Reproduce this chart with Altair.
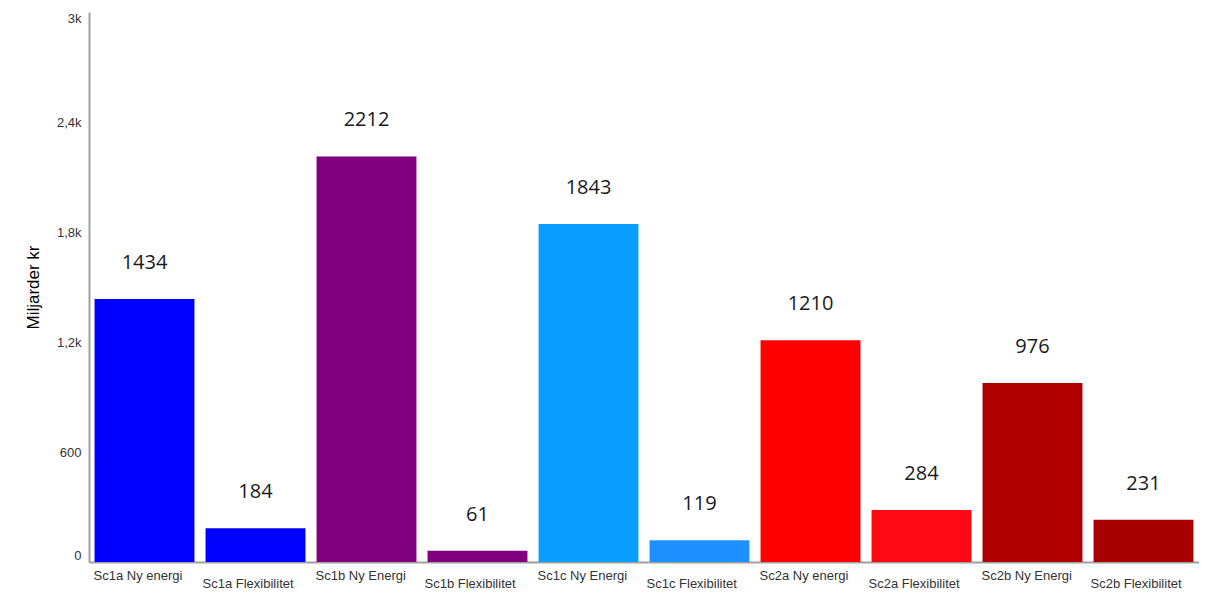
import altair as alt
import pandas as pd

categories = [
    "Sc1a Ny energi", "Sc1a Flexibilitet",
    "Sc1b Ny Energi", "Sc1b Flexibilitet",
    "Sc1c Ny Energi", "Sc1c Flexibilitet",
    "Sc2a Ny energi", "Sc2a Flexibilitet",
    "Sc2b Ny Energi", "Sc2b Flexibilitet",
]
values = [1434, 184, 2212, 61, 1843, 119, 1210, 284, 976, 231]
colors = [
    "#0000FF", "#0000FF",
    "#800080", "#800080",
    "#0A9EFF", "#1E90FF",
    "#FF0000", "#FF0A14",
    "#B00000", "#A80000",
]
rows = ["top", "bottom"] * 5
tick_values = [0, 600, 1200, 1800, 2400, 3000]
tick_labels = ["0", "600", "1,2k", "1,8k", "2,4k", "3k"]

df = pd.DataFrame({"cat": categories, "value": values, "row": rows})

W, H = 1110, 550

label_expr = " : ".join(
    f"datum.value == {v} ? '{t}'" for v, t in zip(tick_values, tick_labels)
) + " : ''"

x_enc = alt.X(
    "cat:N",
    sort=categories,
    scale=alt.Scale(paddingInner=0.1, paddingOuter=0.05),
    axis=alt.Axis(labels=False, ticks=False, title=None, domainColor="#A0A0A0", domainWidth=2),
)

bars = alt.Chart(df).mark_bar().encode(
    x=x_enc,
    y=alt.Y(
        "value:Q",
        scale=alt.Scale(domain=[0, 3000], nice=False),
        axis=alt.Axis(
            values=tick_values,
            labelExpr=label_expr,
            title="Miljarder kr",
            titleFont="Liberation Sans",
            titleFontSize=17,
            titleFontWeight="normal",
            titleColor="#000000",
            titlePadding=14,
            labelFont="Liberation Sans",
            labelFontSize=13,
            labelColor="#333333",
            labelPadding=8,
            labelFlush=True,
            ticks=False,
            grid=False,
            domainColor="#A0A0A0",
            domainWidth=2,
        ),
    ),
    color=alt.Color("cat:N", scale=alt.Scale(domain=categories, range=colors), legend=None),
)

value_text = alt.Chart(df).mark_text(
    font="Open Sans", fontSize=20, color="#1a1a1a", baseline="middle", dy=-36
).encode(
    x=alt.X("cat:N", sort=categories),
    y="value:Q",
    text="value:Q",
)

top_labels = alt.Chart(df).transform_filter(alt.datum.row == "top").mark_text(
    font="Liberation Sans", fontSize=13, color="#333333", align="left", baseline="alphabetic", dx=-1
).encode(
    x=alt.X("cat:N", sort=categories, bandPosition=0),
    y=alt.value(H + 18),
    text="cat:N",
)

bottom_labels = alt.Chart(df).transform_filter(alt.datum.row == "bottom").mark_text(
    font="Liberation Sans", fontSize=13, color="#333333", align="left", baseline="alphabetic", dx=-3
).encode(
    x=alt.X("cat:N", sort=categories, bandPosition=0),
    y=alt.value(H + 26),
    text="cat:N",
)

chart = alt.layer(bars, value_text, top_labels, bottom_labels).properties(
    width=W, height=H,
    padding={"left": 16, "top": 4, "right": 0, "bottom": 0},
).configure_view(stroke=None)

chart.save("out.html", embed_options={"renderer": "svg", "actions": False})
